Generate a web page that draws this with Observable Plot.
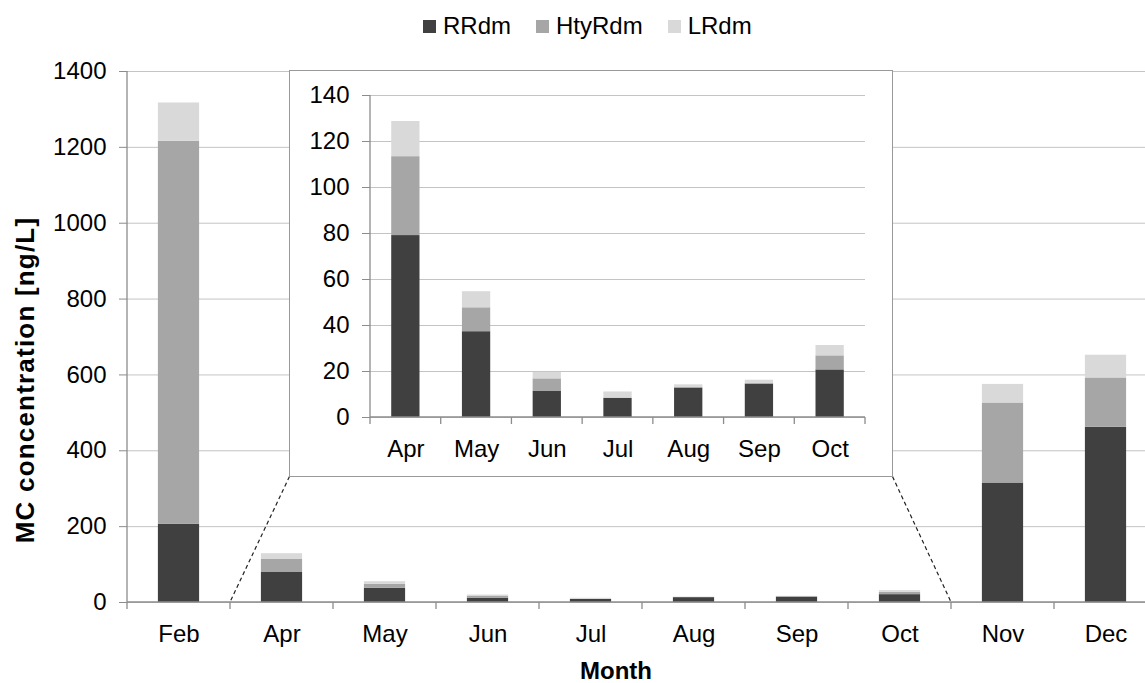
<!DOCTYPE html>
<html>
<head>
<meta charset="utf-8">
<script src="https://cdn.jsdelivr.net/npm/d3@7"></script>
<script src="https://cdn.jsdelivr.net/npm/@observablehq/plot@0.6"></script>
<style>
  body { margin: 0; background: #fff; font-family: "Liberation Sans", Arial, sans-serif; }
  #wrap { position: relative; width: 1145px; height: 683px; overflow: hidden; background: #fff; }
  .abs { position: absolute; }
  #legend { left: 423px; top: 12px; display: flex; align-items: center; font-size: 24px; line-height: 28px; color: #000; white-space: nowrap; }
  #legend .item { display: flex; align-items: center; margin-right: 25px; }
  #legend .sw { width: 13px; height: 13px; margin-right: 7px; }
  .title { font-weight: bold; font-size: 24px; line-height: 20px; color: #000; white-space: nowrap; }
  #inset { left: 289px; top: 70px; border: 1px solid #999; background: #fff; width: 602px; height: 405px; }
</style>
</head>
<body>
<div id="wrap"></div>
<script>
// ---------- data ----------
const months = ["Feb", "Apr", "May", "Jun", "Jul", "Aug", "Sep", "Oct", "Nov", "Dec"];
const insetMonths = ["Apr", "May", "Jun", "Jul", "Aug", "Sep", "Oct"];
const series = ["RRdm", "HtyRdm", "LRdm"];
const colors = ["#404040", "#a6a6a6", "#d9d9d9"];
const rrdm   = [206, 79.1, 37.3, 11.5, 8.3, 12.8, 14.5, 20.7, 315, 462];
const htyrdm = [1010, 34.3, 10.4, 5.3, 0.2, 0.4, 0.3, 6.1, 211, 130];
const lrdm   = [101, 15.3, 7.0, 2.8, 2.6, 1.0, 1.4, 4.5, 49, 60];
const mainTicks = [0, 200, 400, 600, 800, 1000, 1200, 1400];
const insetTicks = [0, 20, 40, 60, 80, 100, 120, 140];

const rows = [];
months.forEach((m, i) => {
  rows.push({month: m, series: "RRdm", value: rrdm[i]});
  rows.push({month: m, series: "HtyRdm", value: htyrdm[i]});
  rows.push({month: m, series: "LRdm", value: lrdm[i]});
});
const insetRows = rows.filter(d => insetMonths.includes(d.month));

const FONT = '"Liberation Sans", Arial, sans-serif';

function panel({domain, data, ticks, yMax, width, height, xRange, top, bottom}) {
  const p = Plot.plot({
    width, height,
    marginLeft: xRange[0], marginRight: width - xRange[1], marginTop: top, marginBottom: bottom,
    style: {fontFamily: FONT, fontSize: "24px", color: "#000", background: "transparent"},
    x: {domain, range: xRange, paddingInner: 0.6, paddingOuter: 0.3, round: false, label: null},
    y: {domain: [0, yMax], range: [height - bottom, top], label: null},
    color: {domain: series, range: colors},
    marks: [
      Plot.gridY(ticks, {stroke: "#c4c4c4", strokeOpacity: 1, strokeWidth: 1}),
      Plot.barY(data, {x: "month", y: "value", fill: "series"}),
      Plot.axisY(ticks, {tickSize: 8, tickPadding: 13, stroke: "#8c8c8c", fill: "#000", tickFormat: d3.format("d")}),
      Plot.axisX({tickSize: 0, tickPadding: 22, fill: "#000"})
    ]
  });
  const sx = p.scale("x"), sy = p.scale("y");
  const off = (sx.step - sx.bandwidth) / 2;
  const y0 = sy.apply(0), yT = sy.apply(yMax);
  const g = d3.select(p).append("g").attr("stroke", "#8c8c8c").attr("stroke-width", 1.3);
  g.append("line").attr("x1", sx.range[0]).attr("x2", sx.range[0]).attr("y1", yT).attr("y2", y0);
  g.append("line").attr("x1", sx.range[0]).attr("x2", sx.range[1]).attr("y1", y0).attr("y2", y0);
  const bounds = domain.map(m => sx.apply(m) - off);
  bounds.push(sx.apply(domain[domain.length - 1]) + sx.bandwidth + off);
  bounds.forEach(b => g.append("line").attr("x1", b).attr("x2", b).attr("y1", y0).attr("y2", y0 + 7));
  return {svg: p, sx, sy, off};
}

const wrap = document.getElementById("wrap");

// main chart
const main = panel({domain: months, data: rows, ticks: mainTicks, yMax: 1400,
  width: 1145, height: 683, xRange: [127, 1157], top: 71, bottom: 81});
main.svg.classList.add("abs");
main.svg.style.left = "0px"; main.svg.style.top = "0px";
wrap.appendChild(main.svg);

// connector lines
const insetLeft = 289, insetTop = 70, insetW = 602, insetH = 405;
const ov = d3.select(wrap).append("svg").attr("class", "abs")
  .attr("width", 1145).attr("height", 683).style("left", "0px").style("top", "0px");
const y0 = main.sy.apply(0);
const xa = main.sx.apply(insetMonths[0]) - main.off;
const xb = main.sx.apply(insetMonths[insetMonths.length - 1]) + main.sx.bandwidth + main.off;
ov.append("line").attr("x1", insetLeft + 0.5).attr("y1", insetTop + insetH + 1.5).attr("x2", xa).attr("y2", y0)
  .attr("stroke", "#222").attr("stroke-width", 1.2).attr("stroke-dasharray", "4,3");
ov.append("line").attr("x1", insetLeft + insetW + 1.5).attr("y1", insetTop + insetH + 1.5).attr("x2", xb).attr("y2", y0)
  .attr("stroke", "#222").attr("stroke-width", 1.2).attr("stroke-dasharray", "4,3");

// inset chart
const insetDiv = document.createElement("div");
insetDiv.id = "inset"; insetDiv.className = "abs";
wrap.appendChild(insetDiv);
const inset = panel({domain: insetMonths, data: insetRows, ticks: insetTicks, yMax: 140,
  width: insetW, height: insetH, xRange: [80, 575], top: 24, bottom: 59});
inset.svg.style.display = "block";
insetDiv.appendChild(inset.svg);

// legend
const legend = document.createElement("div");
legend.id = "legend"; legend.className = "abs";
series.forEach((s, i) => {
  const it = document.createElement("div"); it.className = "item";
  const sw = document.createElement("div"); sw.className = "sw"; sw.style.background = colors[i];
  const tx = document.createElement("span"); tx.textContent = s;
  it.appendChild(sw); it.appendChild(tx); legend.appendChild(it);
});
wrap.appendChild(legend);

// axis titles
const yt = document.createElement("div");
yt.className = "abs title"; yt.textContent = "MC concentration [ng/L]";
yt.style.fontSize = "26px"; yt.style.letterSpacing = "1.2px"; yt.style.lineHeight = "26px";
yt.style.left = "25px"; yt.style.top = "380px";
yt.style.transform = "translate(-50%, -50%) rotate(-90deg)";
wrap.appendChild(yt);

const xt = document.createElement("div");
xt.className = "abs title"; xt.textContent = "Month";
xt.style.left = "616px"; xt.style.top = "661px"; xt.style.transform = "translateX(-50%)";
wrap.appendChild(xt);
</script>
</body>
</html>
